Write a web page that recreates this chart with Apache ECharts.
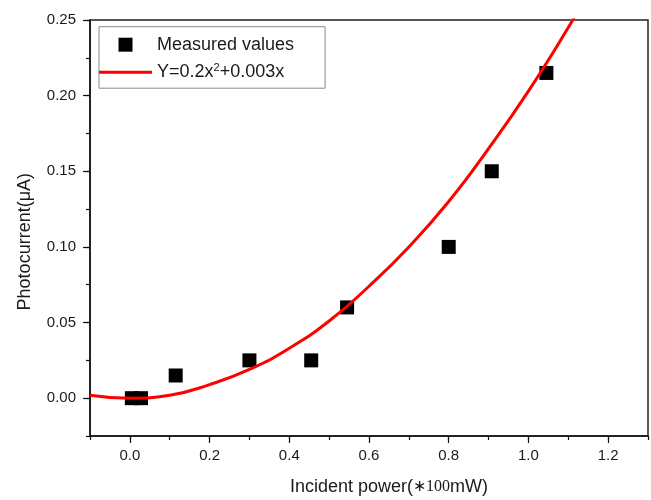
<!DOCTYPE html>
<html>
<head>
<meta charset="utf-8">
<script src="https://cdn.jsdelivr.net/npm/echarts@6/dist/echarts.min.js"></script>
<style>
  html, body { margin: 0; padding: 0; background: #fff; }
  #chart { width: 651px; height: 500px; }
</style>
</head>
<body>
<div id="chart"></div>
<script>
// measured points (x in *100mW, y in uA)
const measuredX = [0.005, 0.028, 0.115, 0.30, 0.455, 0.545, 0.80, 0.908, 1.045];
const measuredY = [0.000, 0.000, 0.015, 0.025, 0.025, 0.060, 0.100, 0.150, 0.215];

// fitted curve
const fitX = [-0.1, 0.0, 0.1, 0.2, 0.3, 0.4, 0.5, 0.6, 0.7, 0.8, 0.9, 1.0, 1.1, 1.15];
const fitY = [0.002, 0.000, 0.002, 0.009, 0.019, 0.033, 0.051, 0.074, 0.100, 0.130, 0.165, 0.203, 0.245, 0.268];

const measuredName = 'Measured values';
const fitName = 'Y=0.2x^2+0.003x';

const chart = echarts.init(document.getElementById('chart'), null, { renderer: 'canvas' });

const font = 'Liberation Sans';
const textColor = '#1a1a1a';
const axisColor = '#111';

function zip(xs, ys) {
  let out = [];
  for (let i = 0; i < xs.length; i++) {
    out.push([xs[i], ys[i]]);
  }
  return out;
}

const hidden = { show: false };

const option = {
  animation: false,
  backgroundColor: '#fff',
  grid: [
    // main plot area: -0.1..1.3 / -0.025..0.25
    { left: 90, right: 3, top: 20, bottom: 64, show: true, borderColor: '#222', borderWidth: 1.5 },
    // x major ticks: 0..1.2
    { left: 129.9, right: 42.9, top: 20, bottom: 64 },
    // y major ticks: 0..0.25
    { left: 90, right: 3, top: 20, bottom: 101.8 }
  ],
  xAxis: [
    {
      gridIndex: 0, type: 'value', min: -0.1, max: 1.3, interval: 0.1,
      axisLine: { show: true, onZero: false, lineStyle: { color: axisColor, width: 1.5 } },
      axisTick: { show: true, inside: false, length: 4, lineStyle: { color: axisColor, width: 1.2 } },
      axisLabel: hidden,
      splitLine: hidden
    },
    {
      gridIndex: 1, type: 'value', min: 0, max: 1.2, interval: 0.2,
      axisLine: { show: false, onZero: false },
      axisTick: { show: true, inside: false, length: 7, lineStyle: { color: axisColor, width: 1.2 } },
      axisLabel: {
        show: true, margin: 12, fontFamily: font, fontSize: 15, color: textColor,
        formatter: v => v.toFixed(1)
      },
      splitLine: hidden
    },
    { gridIndex: 2, type: 'value', show: false }
  ],
  yAxis: [
    {
      gridIndex: 0, type: 'value', min: -0.025, max: 0.25, interval: 0.025,
      axisLine: { show: true, onZero: false, lineStyle: { color: axisColor, width: 1.5 } },
      axisTick: { show: true, inside: false, length: 4, lineStyle: { color: axisColor, width: 1.2 } },
      axisLabel: hidden,
      splitLine: hidden
    },
    { gridIndex: 1, type: 'value', show: false },
    {
      gridIndex: 2, type: 'value', min: 0, max: 0.25, interval: 0.05,
      axisLine: { show: false, onZero: false },
      axisTick: { show: true, inside: false, length: 7, lineStyle: { color: axisColor, width: 1.2 } },
      axisLabel: {
        show: true, margin: 14, fontFamily: font, fontSize: 15, color: textColor,
        formatter: v => v.toFixed(2)
      },
      splitLine: hidden
    }
  ],
  legend: {
    orient: 'vertical',
    left: 99,
    top: 26.7,
    padding: [9, 31, 7, 0],
    itemWidth: 53,
    itemHeight: 14,
    itemGap: 8.5,
    borderColor: '#888',
    borderWidth: 1,
    selectedMode: false,
    symbolKeepAspect: true,
    data: [
      { name: measuredName, icon: 'path://M0,0h14v14h-14z' },
      { name: fitName, icon: 'path://M0,0h53v3h-53z' }
    ],
    textStyle: {
      fontFamily: font, fontSize: 18, color: textColor,
      rich: {
        sup: { fontFamily: font, fontSize: 11, color: textColor, padding: [0, 0, 9, 0] }
      }
    },
    formatter: function (name) {
      if (name === fitName) {
        return 'Y=0.2x{sup|2}+0.003x';
      }
      return name;
    }
  },
  graphic: [
    {
      type: 'text', x: 389, y: 487,
      style: {
        text: '{a|Incident power(}{b|∗100}{a|mW)}',
        align: 'center', verticalAlign: 'middle',
        rich: {
          a: { fontFamily: font, fontSize: 18, fill: textColor, color: textColor },
          b: { fontFamily: 'Liberation Serif', fontSize: 16, fill: textColor, color: textColor }
        }
      }
    },
    {
      type: 'text', x: 25.5, y: 241.7, rotation: Math.PI / 2,
      style: {
        text: 'Photocurrent(μA)',
        align: 'center', verticalAlign: 'middle',
        font: '18px "Liberation Sans"', fill: textColor
      }
    }
  ],
  series: [
    {
      name: measuredName,
      type: 'scatter',
      xAxisIndex: 0, yAxisIndex: 0,
      symbol: 'rect',
      symbolSize: 14,
      itemStyle: { color: '#000', opacity: 1 },
      z: 2,
      data: zip(measuredX, measuredY)
    },
    {
      name: fitName,
      type: 'line',
      xAxisIndex: 0, yAxisIndex: 0,
      smooth: 0.5,
      showSymbol: false,
      symbol: 'none',
      clip: true,
      lineStyle: { color: '#ff0000', width: 3 },
      itemStyle: { color: '#ff0000' },
      z: 3,
      data: zip(fitX, fitY)
    }
  ]
};

chart.setOption(option);
</script>
</body>
</html>
